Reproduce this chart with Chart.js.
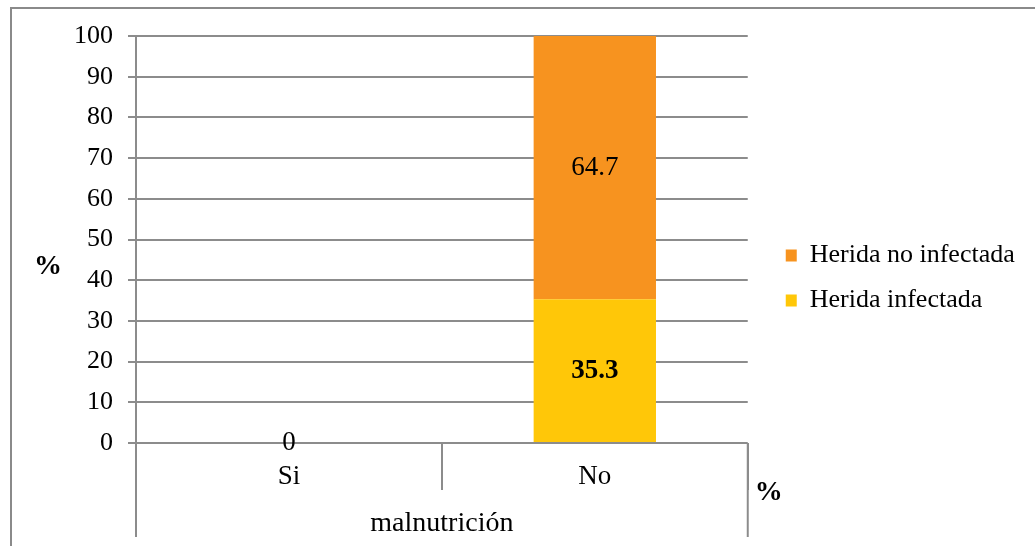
<!DOCTYPE html>
<html>
<head>
<meta charset="utf-8">
<script src="https://cdn.jsdelivr.net/npm/chart.js@4/dist/chart.umd.min.js"></script>
<style>
  html, body { margin: 0; padding: 0; background: #fff; }
  #wrap { width: 1035px; height: 546px; }
</style>
</head>
<body>
<div id="wrap"><canvas id="chart" width="1035" height="546"></canvas></div>
<script>
// Categories on the x axis (grouped under "malnutrición")
const categories = ['Si', 'No'];
const groupLabel = 'malnutrición';
const unitLabel = '%';

// Series values (percent)
const seriesInfected = [null, 35.3];
const seriesNotInfected = [0, 64.7];
const seriesNames = ['Herida infectada', 'Herida no infectada'];

// Y axis tick labels
const yTickValues = [0, 10, 20, 30, 40, 50, 60, 70, 80, 90, 100];

const SERIF = "'Liberation Serif', 'Times New Roman', serif";
const GRID = '#8c8c8c';
const LEGEND_GAP = 19;

// Value labels centred in each stacked segment
const valueLabels = {
  id: 'valueLabels',
  afterDatasetsDraw(chart) {
    const ctx = chart.ctx;
    ctx.save();
    ctx.textAlign = 'center';
    ctx.textBaseline = 'middle';
    ctx.fillStyle = '#000';
    chart.data.datasets.forEach((ds, i) => {
      const meta = chart.getDatasetMeta(i);
      ctx.font = (ds.labelBold ? 'bold ' : '') + '27px ' + SERIF;
      meta.data.forEach((el, j) => {
        const v = ds.data[j];
        if (v === null || v === undefined) return;
        const p = el.getCenterPoint();
        ctx.fillText(String(v), p.x, p.y);
      });
    });
    ctx.restore();
  }
};

// Frame, category box lines, legend offset and the "%" captions
const frame = {
  id: 'frame',
  afterLayout(chart) {
    // leave a gap between the plot and the legend
    if (chart.legend) {
      chart.legend.left += LEGEND_GAP;
      chart.legend.right += LEGEND_GAP;
    }
  },
  beforeDraw(chart) {
    const ctx = chart.ctx;
    ctx.save();
    ctx.fillStyle = '#fff';
    ctx.fillRect(0, 0, chart.width, chart.height);
    ctx.strokeStyle = '#8a8a8a';
    ctx.lineWidth = 2;
    ctx.strokeRect(11, 8, chart.width + 20, chart.height + 20);
    ctx.restore();
  },
  afterDraw(chart) {
    const ctx = chart.ctx;
    const a = chart.chartArea;
    ctx.save();
    ctx.strokeStyle = GRID;
    ctx.lineWidth = 2;
    const yEnd = a.bottom + 94;
    [a.left, a.right].forEach(x => {
      ctx.beginPath();
      ctx.moveTo(x, a.bottom);
      ctx.lineTo(x, yEnd);
      ctx.stroke();
    });
    ctx.fillStyle = '#000';
    ctx.font = 'bold 28px ' + SERIF;
    ctx.textAlign = 'center';
    ctx.textBaseline = 'middle';
    ctx.fillText(unitLabel, 48, a.top + 231);
    ctx.fillText(unitLabel, a.right + 21, a.bottom + 50);
    ctx.restore();
  }
};

new Chart(document.getElementById('chart'), {
  type: 'bar',
  data: {
    labels: categories,
    datasets: [
      {
        label: seriesNames[0],
        data: seriesInfected,
        backgroundColor: '#FFC708',
        labelBold: true
      },
      {
        label: seriesNames[1],
        data: seriesNotInfected,
        backgroundColor: '#F7931F',
        labelBold: false
      }
    ]
  },
  options: {
    responsive: false,
    animation: false,
    devicePixelRatio: 1,
    layout: { padding: { left: 0, right: 38, top: 0, bottom: 0 } },
    datasets: {
      bar: { categoryPercentage: 1.0, barPercentage: 0.4 }
    },
    plugins: {
      tooltip: { enabled: false },
      title: {
        display: true,
        text: ' ',
        padding: 0,
        font: { size: 30, lineHeight: 1.2 }
      },
      legend: {
        position: 'right',
        reverse: true,
        title: { display: true, text: ' ', padding: 0, font: { size: 10, lineHeight: 1 } },
        labels: {
          boxWidth: 11,
          boxHeight: 12,
          padding: 19,
          color: '#000',
          font: { family: SERIF, size: 26, lineHeight: 1.2 }
        }
      }
    },
    scales: {
      x: {
        stacked: true,
        offset: true,
        grid: {
          offset: true,
          drawOnChartArea: false,
          drawTicks: true,
          tickLength: 47,
          color: GRID,
          lineWidth: 2
        },
        border: { display: false },
        ticks: {
          color: '#000',
          padding: -29,
          font: { family: SERIF, size: 27 }
        },
        title: {
          display: true,
          text: groupLabel,
          color: '#000',
          padding: { top: 0, bottom: 6 },
          font: { family: SERIF, size: 28 }
        },
        afterFit(s) { s.height = 103; }
      },
      y: {
        stacked: true,
        min: 0,
        max: 100,
        afterBuildTicks(s) { s.ticks = yTickValues.map(v => ({ value: v })); },
        grid: {
          color: GRID,
          lineWidth: 2,
          tickLength: 8
        },
        border: { color: GRID, width: 2 },
        ticks: {
          color: '#000',
          padding: 15,
          font: { family: SERIF, size: 26 }
        },
        afterFit(s) { s.width = 136; }
      }
    }
  },
  plugins: [frame, valueLabels]
});
</script>
</body>
</html>
